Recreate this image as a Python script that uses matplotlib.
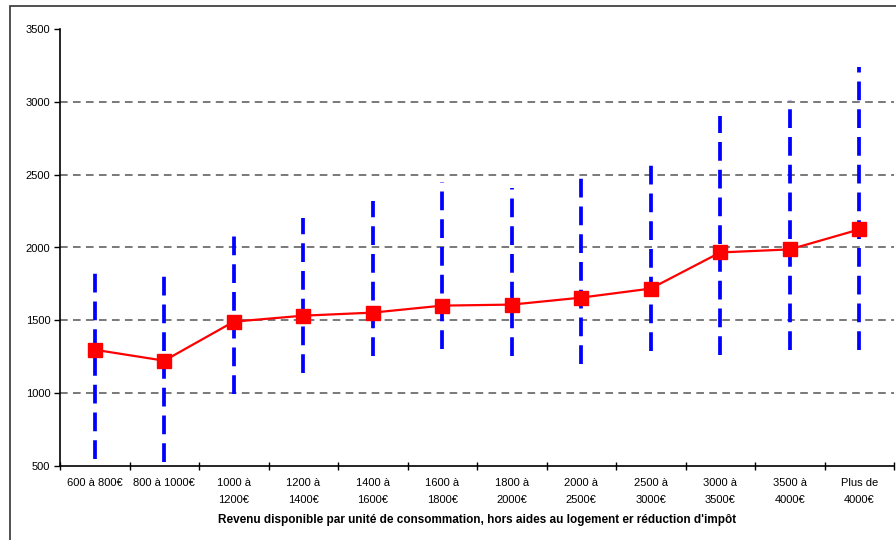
import matplotlib
matplotlib.use("Agg")
import matplotlib.pyplot as plt
from matplotlib.patches import Rectangle

categories = ["600 à 800€", "800 à 1000€", "1000 à\n1200€", "1200 à\n1400€", "1400 à\n1600€",
              "1600 à\n1800€", "1800 à\n2000€", "2000 à\n2500€", "2500 à\n3000€",
              "3000 à\n3500€", "3500 à\n4000€", "Plus de\n4000€"]
median_values = [1298, 1223, 1491, 1532, 1553, 1601, 1608, 1656, 1718, 1966, 1987, 2124]
range_low = [548, 527, 995, 1140, 1257, 1305, 1257, 1202, 1291, 1264, 1298, 1298]
range_high = [1840, 1821, 2124, 2200, 2317, 2448, 2406, 2496, 2620, 2902, 3012, 3239]
y_ticks = [500, 1000, 1500, 2000, 2500, 3000, 3500]
grid_levels = [1000, 1500, 2000, 2500, 3000]
xlabel = "Revenu disponible par unité de consommation, hors aides au logement er réduction d'impôt"

plt.rcParams['font.family'] = ['Liberation Sans', 'DejaVu Sans']

fig = plt.figure(figsize=(8.96, 5.40), dpi=100)
ax = fig.add_axes([60/896, 1-466/540, 834/896, (466-29)/540])

x = list(range(len(categories)))

for g in grid_levels:
    ax.axhline(g, color='#555555', linestyle=(0, (5, 3.5)), linewidth=1.1, zorder=1)

ax.vlines(x, range_low, range_high, colors='#0000FF', linewidth=2.7,
          linestyles=[(0, (5.0, 2.4))], zorder=2)

ax.plot(x, median_values, color='#FF0000', linewidth=1.6, marker='s', markersize=10,
        markerfacecolor='#FF0000', markeredgecolor='#FF0000', zorder=3)

ax.set_xlim(-0.5, len(categories) - 0.5)
ax.set_ylim(500, 3500)
ax.set_yticks(y_ticks)
ax.set_yticklabels([str(v) for v in y_ticks], fontsize=8)

ax.set_xticks([i - 0.5 for i in range(len(categories) + 1)])
ax.set_xticklabels([])
ax.set_xticks(x, minor=True)
ax.set_xticklabels(categories, minor=True, fontsize=8, linespacing=1.85)
ax.tick_params(axis='x', which='minor', length=0, pad=9)
ax.tick_params(axis='x', which='major', length=6, width=1, direction='inout', color='black')
ax.tick_params(axis='y', length=4, width=1, direction='out', pad=3)

ax.spines['top'].set_visible(False)
ax.spines['right'].set_visible(False)
ax.spines['left'].set_linewidth(1.2)
ax.spines['bottom'].set_linewidth(1.2)
ax.set_xlabel(xlabel, fontsize=8.5, fontweight='bold', labelpad=6)

fig.patches.append(Rectangle((10/896, -0.1), 1.2, 1 - 6/540 + 0.1, transform=fig.transFigure,
                             fill=False, edgecolor='#333333', linewidth=1.2))

fig.savefig("out.png", dpi=100)
